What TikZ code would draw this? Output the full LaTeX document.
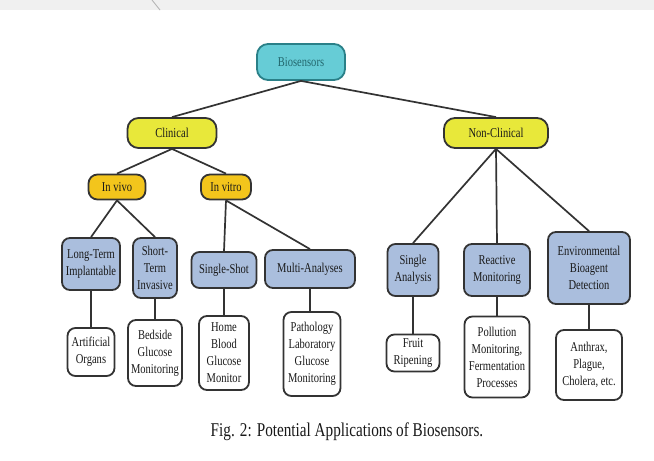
\documentclass[tikz,border=0pt]{standalone}
\usepackage{fontspec}
\setmainfont[FakeStretch=0.78]{Liberation Serif}
\definecolor{teal1}{HTML}{66CCD6}
\definecolor{teal2}{HTML}{2A8088}
\definecolor{yel1}{HTML}{E8E83A}
\definecolor{gold1}{HTML}{F3C51C}
\definecolor{blue1}{HTML}{AABEDD}
\definecolor{edge1}{HTML}{333333}
\begin{document}
\begin{tikzpicture}[x=1pt,y=-1pt,
  box/.style={rounded corners=8pt, draw=edge1, line width=1.8pt, align=center, inner sep=1pt,
    font=\fontsize{13.5}{17}\selectfont, text=black!90},
  topbox/.style={box, rounded corners=11pt},
  bluebox/.style={box, fill=blue1},
  leafbox/.style={box, fill=white},
  conn/.style={draw=edge1, line width=1.7pt}]
\useasboundingbox (0,0) rectangle (654,461);
\fill[white] (0,0) rectangle (654,461);
\fill[black!6] (0,0) rectangle (654,10);
\draw[black!30, line width=0.8pt] (152,0) -- (160,10);
% level 0
\node[topbox, fill=teal1, draw=teal2, text=teal2!80!black, minimum width=88, minimum height=36] (bio) at (301,62) {Biosensors};
% level 1
\node[topbox, fill=yel1, minimum width=89, minimum height=30] (cli) at (172,133) {Clinical};
\node[topbox, fill=yel1, minimum width=104, minimum height=30] (non) at (496,133) {Non-Clinical};
% level 2
\node[box, rounded corners=9pt, fill=gold1, minimum width=57, minimum height=25] (vivo) at (117,187) {In vivo};
\node[box, rounded corners=9pt, fill=gold1, minimum width=50, minimum height=25] (vitro) at (226,187) {In vitro};
% level 3
\node[bluebox, minimum width=58, minimum height=52] (lt) at (91,264) {Long-Term\\Implantable};
\node[bluebox, minimum width=44, minimum height=60] (st) at (155,268) {Short-\\Term\\Invasive};
\node[bluebox, minimum width=65, minimum height=36] (ss) at (224,270) {Single-Shot};
\node[bluebox, minimum width=90, minimum height=38] (ma) at (310,269) {Multi-Analyses};
\node[bluebox, minimum width=51, minimum height=52] (sa) at (413,270) {Single\\Analysis};
\node[bluebox, minimum width=66, minimum height=52] (rm) at (497,270) {Reactive\\Monitoring};
\node[bluebox, minimum width=82, minimum height=72] (env) at (589,268) {Environmental\\Bioagent\\Detection};
% level 4
\node[leafbox, minimum width=47, minimum height=48] (ao) at (91,352) {Artificial\\Organs};
\node[leafbox, minimum width=54, minimum height=66] (bg) at (155,353) {Bedside\\Glucose\\Monitoring};
\node[leafbox, minimum width=50, minimum height=74] (hb) at (224,353) {Home\\Blood\\Glucose\\Monitor};
\node[leafbox, minimum width=57, minimum height=84] (pl) at (312,354) {Pathology\\Laboratory\\Glucose\\Monitoring};
\node[leafbox, minimum width=53, minimum height=37] (fr) at (413,353) {Fruit\\Ripening};
\node[leafbox, minimum width=65, minimum height=81] (pm) at (497,357) {Pollution\\Monitoring,\\Fermentation\\Processes};
\node[leafbox, minimum width=66, minimum height=70] (an) at (589,365) {Anthrax,\\Plague,\\Cholera, etc.};
% caption
\node[font=\fontsize{19.5}{22}\selectfont, text=black!90] (cap) at (347,432) {Fig. 2: Potential Applications of Biosensors.};
% connectors
\draw[conn] (bio.south) -- (cli.north);
\draw[conn] (bio.south) -- (non.north);
\draw[conn] (cli.south) -- (vivo.north);
\draw[conn] (cli.south) -- (vitro.north);
\draw[conn] (vivo.south) -- (lt.north);
\draw[conn] (vivo.south) -- (st.north);
\draw[conn] (vitro.south) -- (ss.north);
\draw[conn] (vitro.south) -- (ma.north);
\draw[conn] (non.south) -- (sa.north);
\draw[conn] (non.south) -- (rm.north);
\draw[conn] (non.south) -- (env.north);
\draw[conn] (lt.south) -- (ao.north);
\draw[conn] (st.south) -- (bg.north);
\draw[conn] (ss.south) -- (hb.north);
\draw[conn] (ma.south) -- (ma.south |- pl.north);
\draw[conn] (sa.south) -- (fr.north);
\draw[conn] (rm.south) -- (pm.north);
\draw[conn] (env.south) -- (an.north);
\end{tikzpicture}
\end{document}
